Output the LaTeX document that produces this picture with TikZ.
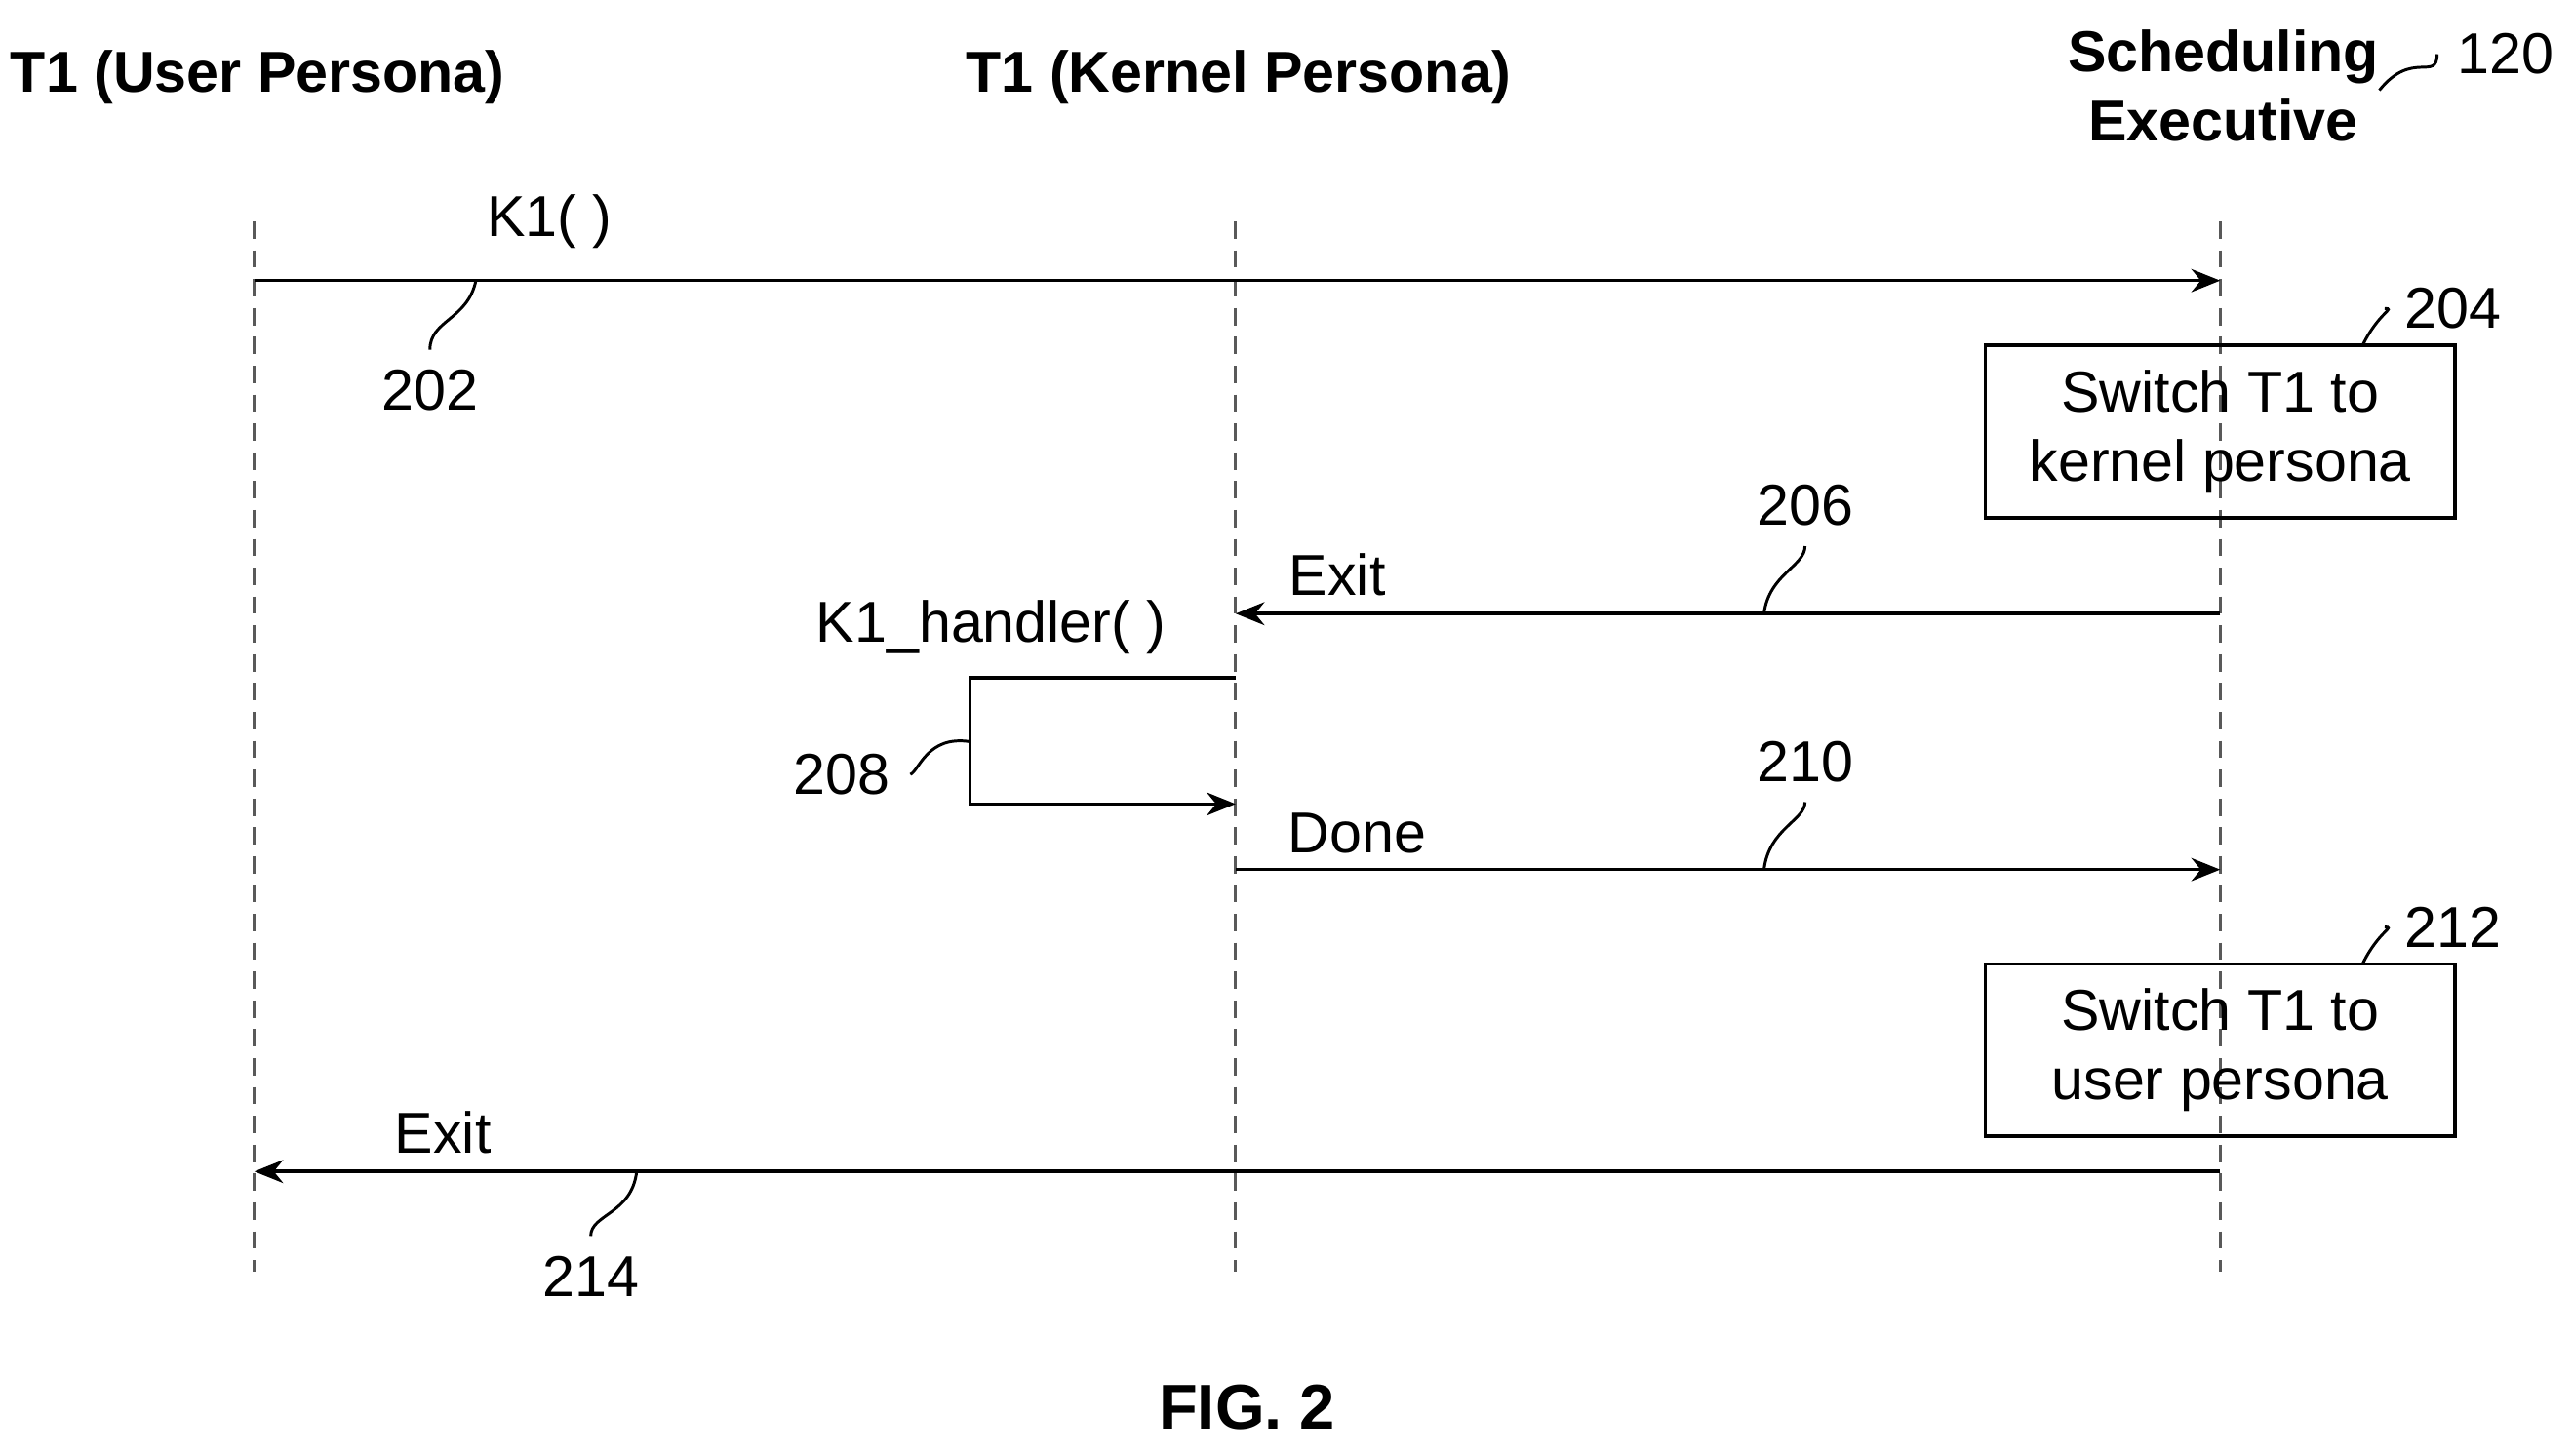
\documentclass[tikz,border=0pt]{standalone}
\usepackage{fontspec}
\setmainfont{Liberation Sans}
\usetikzlibrary{arrows.meta,positioning}

\begin{document}
\begin{tikzpicture}[x = 0.01cm, y = -0.01cm, font = \fontsize{10}{12}\selectfont]
\tikzstyle{Life}=[densely dashed, line width = 0.5pt, gray!70!black]
\tikzstyle{Msg}=[line width = 0.6pt, -{Stealth[length = 5pt, width = 4pt]}]
\tikzstyle{Box}=[draw, line width = 0.6pt, minimum width = 2.86cm, minimum height = 1.05cm, align = center, inner sep = 0pt]
\tikzstyle{Lead}=[line width = 0.5pt]
\useasboundingbox (0,0) rectangle (1568,887);
% headers
\node[font = \fontsize{10}{12}\selectfont\bfseries] (huser) at (157,47) {T1 (User Persona)};
\node[font = \fontsize{10}{12}\selectfont\bfseries] (hkern) at (755,47) {T1 (Kernel Persona)};
\node[font = \fontsize{10}{12}\selectfont\bfseries, align = center] (hsched) at (1355,52) {Scheduling\\Executive};
\node (n120) at (1527,33) {120};
\draw[Lead] (1450,55) .. controls (1470,30) and (1485,50) .. (n120.west);
% lifelines
\coordinate (u0) at (155,135); \coordinate (u1) at (155,775);
\coordinate (k0) at (753,135); \coordinate (k1) at (753,775);
\coordinate (s0) at (1353,135); \coordinate (s1) at (1353,775);
\draw[Life] (u0) -- (u1);
\draw[Life] (k0) -- (k1);
\draw[Life] (s0) -- (s1);
% K1()
\coordinate (a1) at (155,171); \coordinate (b1) at (1353,171);
\draw[Msg] (a1) -- (b1);
\node (k1call) at (335,135) {K1( )};
\node (n202) at (262,238) {202};
\draw[Lead] (290,171) .. controls (285,195) and (262,195) .. (n202.north);
% switch to kernel
\node[Box] (sw1) at (1353,263) {Switch T1 to\\kernel persona};
\node (n204) at (1495,188) {204};
\draw[Lead] (1440,210) .. controls (1450,190) and (1460,188) .. (n204.west);
% exit to kernel
\coordinate (a2) at (1353,374); \coordinate (b2) at (753,374);
\draw[Msg] (a2) -- (b2);
\node (exit1) at (815,350) {Exit};
\node (n206) at (1100,308) {206};
\draw[Lead] (1075,374) .. controls (1078,350) and (1100,345) .. (n206.south);
% handler
\node (hnd) at (604,382) {K1\_handler( )};
\coordinate (h0) at (753,413); \coordinate (h1) at (591,413);
\coordinate (h2) at (591,490); \coordinate (h3) at (753,490);
\draw[Msg] (h0) -- (h1) -- (h2) -- (h3);
\node (n208) at (513,472) {208};
\draw[Lead] (591,452) .. controls (565,448) and (560,470) .. (n208.east);
% done
\coordinate (a3) at (753,530); \coordinate (b3) at (1353,530);
\draw[Msg] (a3) -- (b3);
\node (done) at (827,508) {Done};
\node (n210) at (1100,464) {210};
\draw[Lead] (1075,530) .. controls (1078,505) and (1100,500) .. (n210.south);
% switch to user
\node[Box] (sw2) at (1353,640) {Switch T1 to\\user persona};
\node (n212) at (1495,565) {212};
\draw[Lead] (1440,587) .. controls (1450,567) and (1460,565) .. (n212.west);
% exit to user
\coordinate (a4) at (1353,714); \coordinate (b4) at (155,714);
\draw[Msg] (a4) -- (b4);
\node (exit2) at (270,690) {Exit};
\node (n214) at (360,778) {214};
\draw[Lead] (388,714) .. controls (385,740) and (360,740) .. (n214.north);
% caption
\node[font = \fontsize{11}{13}\selectfont\bfseries] (fig) at (760,858) {FIG. 2};
\end{tikzpicture}
\end{document}
